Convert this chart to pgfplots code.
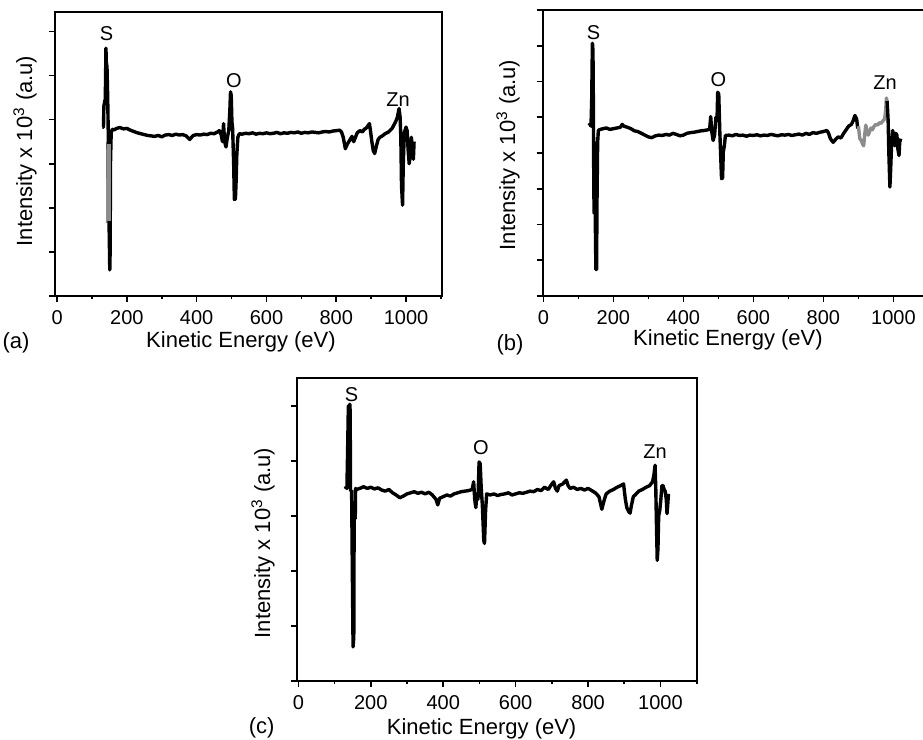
\documentclass[border=0pt]{standalone}
\usepackage{pgfplots}
\pgfplotsset{compat=1.18}
\usepackage{fontspec}
\setmainfont{Liberation Sans}
\pgfplotsset{
  aes/.style={
    scale only axis,
    axis line style={line width=0.9pt},
    tick pos=left,
    tick align=outside,
    xtick={0,200,...,1000},
    minor xtick={100,300,...,1100},
    yticklabels={},
    tick style={black, line width=0.8pt},
    major tick length=3pt,
    minor tick length=1.5pt,
    tick label style={font=\fontsize{10}{12}\selectfont},
    xticklabel style={yshift=-0.5pt},
    /pgf/number format/assume math mode=true,
    /pgf/number format/set thousands separator={},
    trace/.style={black, line width=1.7pt, line join=round},
    grey/.style={black!45, line width=1.7pt, line join=round},
  },
}
\newcommand{\lab}{\fontsize{11}{13}\selectfont}
\newcommand{\pk}{\fontsize{10}{12}\selectfont}
\begin{document}
\begin{tikzpicture}
\clip (0pt,0pt) rectangle (461.5pt,-370pt);
% ---------------- (a)
\begin{axis}[aes, at={(27.5pt,-6pt)}, anchor=north west,
  width=193.5pt, height=142pt,
  xmin=-6, xmax=1103, ymin=0, ymax=6.44, ytick={0,1,...,6}]
\addplot[grey, line width=3.2pt] coordinates {(148.5,3.5) (148.5,1.65)};
\addplot[trace] coordinates {
(130,3.83)(133,3.83)(134,4.3)(137,4.44)(138,4.4)(139,5.0)(140,5.62)(141,5.3)(143,5.2)(145,4.5)(147,3.5)(149,1.6)(151,0.59)(152,1.0)(153,3.0)(155,3.7)(158,3.78)
(165,3.77)(170,3.80)(180,3.82)(190,3.79)(200,3.80)(210,3.76)(220,3.73)(230,3.70)(240,3.68)(250,3.66)(260,3.64)(270,3.63)(280,3.62)(290,3.64)(300,3.61)
(310,3.65)(320,3.66)(330,3.64)(340,3.67)(350,3.65)(360,3.66)(370,3.63)(380,3.55)(390,3.64)(400,3.66)(410,3.65)(420,3.67)(430,3.66)(440,3.69)(450,3.68)
(460,3.72)(465,3.75)(470,3.66)(474,3.50)(477,3.91)(480,3.50)(484,3.38)(488,3.60)(492,3.75)(495,4.2)(497,4.63)(499,4.55)(501,3.95)(503,3.8)(506,3.0)
(508,2.19)(511,2.2)(513,2.6)(515,3.2)(518,3.6)(522,3.68)(530,3.67)(540,3.69)(550,3.68)(560,3.70)(570,3.67)(580,3.69)(590,3.68)(600,3.70)(610,3.68)
(620,3.69)(630,3.71)(640,3.68)(650,3.70)(660,3.69)(670,3.71)(680,3.70)(690,3.72)(700,3.69)(710,3.71)(720,3.70)(730,3.72)(740,3.71)(750,3.70)(760,3.72)
(770,3.73)(780,3.72)(790,3.74)(800,3.75)(810,3.76)(815,3.72)(820,3.60)(826,3.34)(832,3.45)(840,3.55)(845,3.62)(850,3.50)(855,3.60)(860,3.70)(868,3.75)
(875,3.72)(880,3.78)(885,3.80)(890,3.85)(895,3.91)(898,3.75)(902,3.50)(906,3.30)(910,3.23)(915,3.40)(920,3.55)(925,3.60)(930,3.62)(940,3.68)(950,3.72)
(960,3.80)(970,3.95)(975,4.05)(980,4.25)(983,4.05)(985,3.6)(987,2.5)(990,2.06)(992,3.0)(995,3.70)(1000,3.83)(1003,3.75)(1006,3.3)(1009,3.00)(1012,3.2)
(1015,3.6)(1018,3.4)(1021,3.1)(1023,3.5)};
\addplot[grey, line width=2.4pt] coordinates {(148.5,3.45) (148.5,1.7)};
\node[font=\pk] at (axis cs:142,5.95) {S};
\node[font=\pk] at (axis cs:507,4.89) {O};
\node[font=\pk] at (axis cs:977,4.46) {Zn};
\end{axis}
% ---------------- (b)
\begin{axis}[aes, at={(271.35pt,-5pt)}, anchor=north west,
  width=192.85pt, height=143pt,
  xmin=-2, xmax=1100, ymin=0, ymax=8, ytick={0,1,...,8}]
\addplot[trace] coordinates {
(130,4.77)(133,4.80)(136,4.75)(138,5.5)(140,7.07)(141,7.0)(142,6.5)(143,5.0)(144,3.0)(145,2.31)(146,4.3)(147,3.2)(148,2.4)(149,1.5)(150,0.74)(152,0.74)
(153,2.5)(155,4.3)(157,4.63)(160,4.65)(170,4.68)(180,4.70)(190,4.66)(200,4.68)(210,4.70)(220,4.72)(225,4.80)(230,4.75)(240,4.72)(250,4.68)(260,4.62)
(270,4.60)(280,4.55)(290,4.50)(300,4.45)(310,4.43)(320,4.48)(330,4.50)(340,4.49)(350,4.52)(360,4.50)(370,4.55)(380,4.52)(390,4.48)(400,4.50)(410,4.55)
(420,4.57)(430,4.58)(440,4.60)(450,4.62)(460,4.63)(470,4.65)(475,4.66)(478,5.02)(481,4.6)(485,4.35)(489,4.5)(493,5.0)(496,4.9)(498,5.70)(501,5.65)
(504,4.6)(507,3.8)(509,3.28)(512,3.3)(514,4.03)(517,4.2)(520,4.49)(530,4.50)(540,4.48)(550,4.52)(560,4.49)(570,4.50)(580,4.47)(590,4.50)(600,4.49)
(610,4.51)(620,4.48)(630,4.50)(640,4.49)(650,4.52)(660,4.50)(670,4.48)(680,4.51)(690,4.50)(700,4.52)(710,4.49)(720,4.51)(730,4.53)(740,4.50)(750,4.55)
(760,4.52)(770,4.57)(780,4.55)(790,4.58)(800,4.60)(810,4.63)(815,4.55)(820,4.40)(828,4.30)(835,4.38)(842,4.45)(850,4.42)(858,4.55)(865,4.65)(872,4.75)
(880,4.80)(885,4.90)(890,5.05)(895,4.95)(898,4.70)(900,4.75)};
\addplot[grey] coordinates {
(900,4.75)(904,4.40)(908,4.35)(912,4.25)(915,4.20)(918,4.50)(921,4.78)(924,4.65)(928,4.50)(932,4.60)(936,4.70)(940,4.65)(945,4.75)(950,4.80)(955,4.78)
(960,4.85)(965,4.83)(970,4.90)(975,4.95)(978,5.20)(980,5.54)(982,5.45)};
\addplot[trace] coordinates {
(982,5.45)(985,4.9)(987,4.0)(990,3.05)(992,3.5)(995,4.3)(998,4.63)(1001,4.4)(1004,4.2)(1007,4.55)(1010,4.5)(1013,4.1)(1016,3.93)(1018,4.3)(1021,4.4)};
\node[font=\pk] at (axis cs:143,7.38) {S};
\node[font=\pk] at (axis cs:500,6.05) {O};
\node[font=\pk] at (axis cs:976,5.98) {Zn};
\end{axis}
% ---------------- (c)
\begin{axis}[aes, at={(148.65pt,-189.15pt)}, anchor=north west,
  width=199.7pt, height=151.35pt,
  xmin=-3, xmax=1100, ymin=0, ymax=5.5, ytick={0,1,...,5}]
\addplot[trace] coordinates {
(129,3.49)(132,3.52)(134,3.50)(136,4.2)(138,5.0)(140,4.8)(142,5.03)(143,4.9)(144,3.46)(147,3.46)(149,2.0)(151,0.62)(153,0.8)(154,2.95)(157,2.95)(158,3.5)
(160,3.48)(170,3.50)(180,3.53)(190,3.50)(200,3.52)(210,3.49)(220,3.51)(230,3.47)(240,3.45)(250,3.48)(260,3.42)(270,3.38)(280,3.33)(290,3.36)(300,3.40)
(310,3.42)(320,3.44)(330,3.41)(340,3.43)(350,3.40)(360,3.43)(370,3.38)(380,3.30)(385,3.20)(390,3.32)(400,3.35)(410,3.38)(420,3.36)(430,3.40)(440,3.42)
(450,3.44)(460,3.45)(470,3.46)(480,3.48)(484,3.62)(487,3.30)(490,3.15)(493,3.40)(496,3.30)(499,3.98)(502,3.95)(505,3.5)(508,3.20)(512,2.55)(514,2.50)
(517,3.1)(520,3.40)(530,3.38)(540,3.40)(550,3.37)(560,3.39)(570,3.40)(580,3.42)(590,3.38)(600,3.40)(610,3.42)(620,3.41)(630,3.43)(640,3.45)(650,3.44)
(660,3.48)(670,3.46)(680,3.52)(690,3.48)(700,3.58)(705,3.62)(710,3.50)(715,3.45)(720,3.55)(730,3.58)(740,3.65)(745,3.55)(750,3.50)(760,3.52)(770,3.48)
(780,3.50)(790,3.47)(800,3.50)(810,3.46)(820,3.42)(830,3.35)(838,3.12)(845,3.30)(850,3.40)(860,3.45)(870,3.48)(880,3.52)(890,3.55)(898,3.58)(903,3.30)
(907,3.15)(912,3.08)(916,3.05)(920,3.20)(925,3.35)(930,3.38)(940,3.45)(950,3.48)(960,3.52)(970,3.55)(978,3.62)(982,3.75)(985,3.92)(987,3.5)(989,2.8)
(991,2.19)(993,2.4)(995,3.0)(998,3.10)(1001,3.3)(1004,3.55)(1007,3.55)(1010,3.48)(1013,3.45)(1016,3.3)(1018,3.04)(1020,3.2)(1022,3.4)};
\node[font=\pk] at (axis cs:147,5.21) {S};
\node[font=\pk] at (axis cs:504,4.24) {O};
\node[font=\pk] at (axis cs:985,4.17) {Zn};
\end{axis}
% ---------------- labels
\node[font=\lab] at (120.5pt,-170.85pt) {Kinetic Energy (eV)};
\node[font=\lab] at (8pt,-171.5pt) {(a)};
\node[font=\lab, rotate=90] at (12.5pt,-75.5pt) {Intensity x 10\textsuperscript{3} (a.u)};
\node[font=\lab] at (364pt,-170pt) {Kinetic Energy (eV)};
\node[font=\lab] at (255pt,-172.5pt) {(b)};
\node[font=\lab, rotate=90] at (254pt,-77.5pt) {Intensity x 10\textsuperscript{3} (a.u)};
\node[font=\lab] at (240.8pt,-364.2pt) {Kinetic Energy (eV)};
\node[font=\lab] at (130.8pt,-364pt) {(c)};
\node[font=\lab, rotate=90] at (131.5pt,-271.5pt) {Intensity x 10\textsuperscript{3} (a.u)};
\end{tikzpicture}
\end{document}
